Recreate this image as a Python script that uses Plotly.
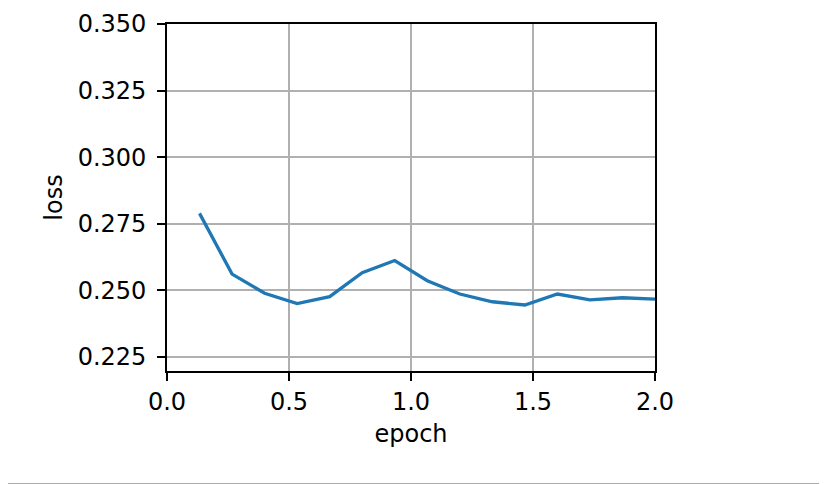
import plotly.graph_objects as go

epoch = [0.1333, 0.2667, 0.4, 0.5333, 0.6667, 0.8, 0.9333, 1.0667,
         1.2, 1.3333, 1.4667, 1.6, 1.7333, 1.8667, 2.0]
loss = [0.2789, 0.2561, 0.2489, 0.2450, 0.2476, 0.2566, 0.2612, 0.2536,
        0.2486, 0.2457, 0.2445, 0.2486, 0.2464, 0.2472, 0.2467]

x_ticks = [0.0, 0.5, 1.0, 1.5, 2.0]
y_ticks = [0.225, 0.250, 0.275, 0.300, 0.325, 0.350]

FONT = "DejaVu Sans"
FS = 24

fig = go.Figure()
fig.add_trace(go.Scatter(
    x=epoch, y=loss, mode="lines",
    line=dict(color="#1f77b4", width=3.3),
    showlegend=False,
))

axis_common = dict(
    showline=True, linecolor="black", linewidth=1.6, mirror=True,
    showgrid=True, gridcolor="#b0b0b0", gridwidth=1.6,
    ticks="outside", ticklen=8, tickwidth=1.6, tickcolor="black",
    tickfont=dict(family=FONT, size=FS, color="black"),
    zeroline=False,
)

fig.update_xaxes(
    range=[0.0, 2.0], tickvals=x_ticks, tickformat=".1f",
    title=dict(text="epoch", font=dict(family=FONT, size=FS, color="black"), standoff=11),
    **axis_common,
)
fig.update_yaxes(
    range=[0.2197, 0.35], tickvals=y_ticks, tickformat=".3f",
    ticklabelstandoff=6,
    title=dict(text="loss", font=dict(family=FONT, size=FS, color="black"), standoff=8),
    **axis_common,
)

# thin grey rule along the bottom edge of the page
fig.add_shape(
    type="line", xref="paper", yref="paper",
    x0=-0.35, x1=1.36, y0=-0.3258, y1=-0.3258,
    line=dict(color="#aaaaaa", width=2),
)

fig.update_layout(
    width=827, height=484,
    margin=dict(l=159, r=180, t=16, b=121, autoexpand=False),
    plot_bgcolor="white", paper_bgcolor="white",
    font=dict(family=FONT, color="black"),
)

fig.write_html("out.html")
